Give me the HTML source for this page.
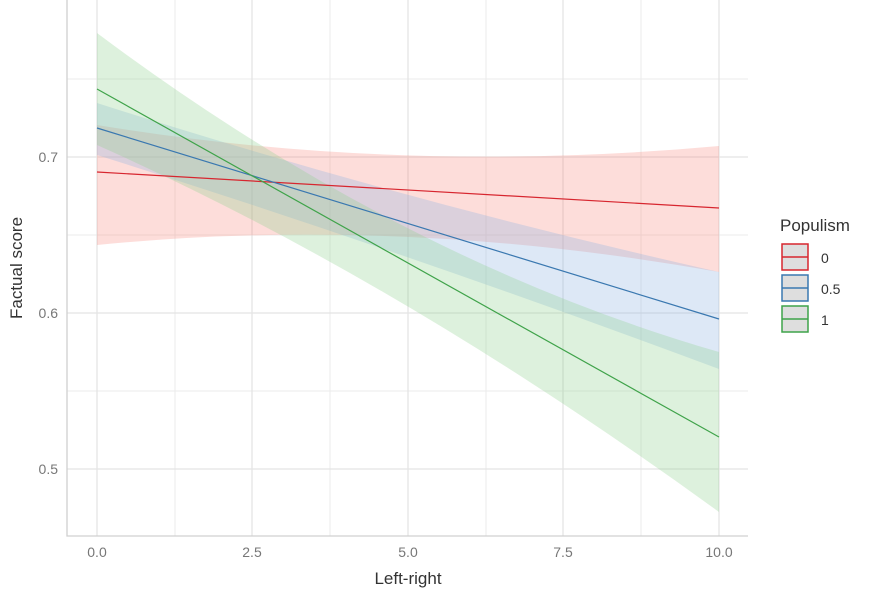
<!DOCTYPE html>
<html><head><style>body{margin:0;background:#fff}</style></head><body>
<svg width="873" height="600" xmlns="http://www.w3.org/2000/svg" font-family="Liberation Sans, sans-serif">
<g stroke="#ebebeb" stroke-width="1">
<line x1="67" x2="748" y1="79" y2="79"/><line x1="67" x2="748" y1="235" y2="235"/><line x1="67" x2="748" y1="391" y2="391"/>
<line x1="175" x2="175" y1="0" y2="536"/><line x1="330" x2="330" y1="0" y2="536"/><line x1="486" x2="486" y1="0" y2="536"/><line x1="641" x2="641" y1="0" y2="536"/>
</g>
<g stroke="#e4e4e4" stroke-width="1.3">
<line x1="67" x2="748" y1="157" y2="157"/><line x1="67" x2="748" y1="313" y2="313"/><line x1="67" x2="748" y1="469" y2="469"/>
<line x1="97" x2="97" y1="0" y2="536"/><line x1="252" x2="252" y1="0" y2="536"/><line x1="408" x2="408" y1="0" y2="536"/><line x1="563" x2="563" y1="0" y2="536"/><line x1="719" x2="719" y1="0" y2="536"/>
</g>
<path d="M97,125 Q400,175 719,146 L719,272 Q400,215 97,245 Z" fill="#f8766d" fill-opacity="0.25"/>
<path d="M97,103 Q400,200 719,272 L719,369 Q400,250 97,155 Z" fill="#8fb4e0" fill-opacity="0.3"/>
<path d="M97,33 Q400,260 719,352 L719,512 Q400,280 97,145 Z" fill="#8fd18f" fill-opacity="0.3"/>
<line x1="97" y1="172" x2="719" y2="208" stroke="#d7262f" stroke-width="1.2"/>
<line x1="97" y1="128" x2="719" y2="319" stroke="#3a78b0" stroke-width="1.2"/>
<line x1="97" y1="89" x2="719" y2="437" stroke="#3fa34a" stroke-width="1.2"/>
<path d="M67,0 V536 H748" fill="none" stroke="#d0d0d0" stroke-width="1.3"/>
<g fill="#777" font-size="14" text-anchor="end">
<text x="58" y="162">0.7</text><text x="58" y="318">0.6</text><text x="58" y="474">0.5</text>
</g>
<g fill="#777" font-size="14" text-anchor="middle">
<text x="97" y="557">0.0</text><text x="252" y="557">2.5</text><text x="408" y="557">5.0</text><text x="563" y="557">7.5</text><text x="719" y="557">10.0</text>
</g>
<text x="408" y="584" font-size="17" fill="#333" text-anchor="middle">Left-right</text>
<text transform="translate(22,268) rotate(-90)" font-size="17" fill="#333" text-anchor="middle">Factual score</text>
<text x="780" y="231" font-size="17" fill="#333">Populism</text>
<g fill="#dedede" stroke-width="1.5">
<rect x="782" y="244" width="26" height="26" stroke="#d7262f"/><line x1="782" x2="808" y1="257" y2="257" stroke="#d7262f"/>
<rect x="782" y="275" width="26" height="26" stroke="#3a78b0"/><line x1="782" x2="808" y1="288" y2="288" stroke="#3a78b0"/>
<rect x="782" y="306" width="26" height="26" stroke="#3fa34a"/><line x1="782" x2="808" y1="319" y2="319" stroke="#3fa34a"/>
</g>
<g fill="#333" font-size="14"><text x="821" y="263">0</text><text x="821" y="294">0.5</text><text x="821" y="325">1</text></g>
</svg>
</body></html>
